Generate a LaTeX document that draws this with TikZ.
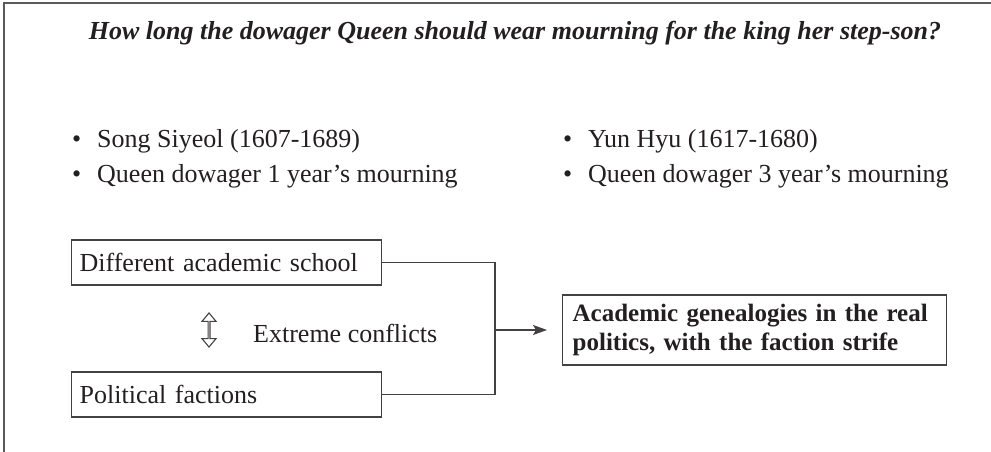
\documentclass[tikz,border=0pt]{standalone}
\usepackage{fontspec}
\setmainfont{Liberation Serif}
\usetikzlibrary{arrows.meta,shapes.arrows,calc}
\definecolor{ink}{HTML}{231F20}
\definecolor{rulegray}{HTML}{5A5A5A}
\begin{document}
\begin{tikzpicture}[x=1pt,y=-1pt,
  txt/.style={inner sep=0pt, text=ink, font=\fontsize{26}{30}\selectfont, anchor=base west},
  box/.style={draw=ink!85, line width=1.3pt, text=ink, font=\fontsize{26}{30}\selectfont,
    align=left, inner xsep=8pt, minimum height=45pt, anchor=west},
  link/.style={draw=ink!85, line width=1.3pt},
  frameline/.style={draw=rulegray, line width=2pt}]
\useasboundingbox (0,0) rectangle (991,452);

% outer frame (top and left edges only)
\draw[frameline] (4,452) -- (4,3) -- (991,3);

% question
\node[txt, anchor=base, font=\fontsize{26}{30}\selectfont\bfseries\itshape] (title) at (515,40)
  {How long the dowager Queen should wear mourning for the king her step-son?};

% the two positions
\node[txt] (l1) at (72,147) {\makebox[25pt][l]{•}Song Siyeol (1607-1689)};
\node[txt] (l2) at (72,182) {\makebox[25pt][l]{•}Queen dowager 1 year’s mourning};
\node[txt] (r1) at (563,147) {\makebox[25pt][l]{•}Yun Hyu (1617-1680)};
\node[txt] (r2) at (563,182) {\makebox[25pt][l]{•}Queen dowager 3 year’s mourning};

% school / faction boxes
\node[box, text width=294pt] (school) at (71,262.5) {Different academic school};
\node[box, text width=294pt] (faction) at (71,394.5) {Political factions};

% conflict between them
\node[double arrow, draw=ink!85, fill=white, line width=1.1pt, rotate=90,
  minimum height=34pt, minimum width=14pt, double arrow head extend=3.5pt,
  double arrow tip angle=80, inner sep=0pt] (updown) at (209,330) {};
\node[txt] (conflict) at (253,342) {Extreme conflicts};

% result
\node[box, font=\fontsize{25}{29}\selectfont\bfseries, text width=364pt, inner xsep=10pt,
  minimum height=70pt] (res) at (562,330)
  {Academic genealogies in the real\\politics, with the faction strife};

% connectors
\coordinate (jn) at ($(res.west)+(-67,0)$);
\coordinate (tip) at ($(res.west)+(-15,0)$);
\draw[link] (school.east) -| (jn);
\draw[link] (faction.east) -| (jn);
\draw[link, -{Stealth[length=14pt,width=10pt,inset=3pt]}] (jn) -- (tip);
\end{tikzpicture}
\end{document}
